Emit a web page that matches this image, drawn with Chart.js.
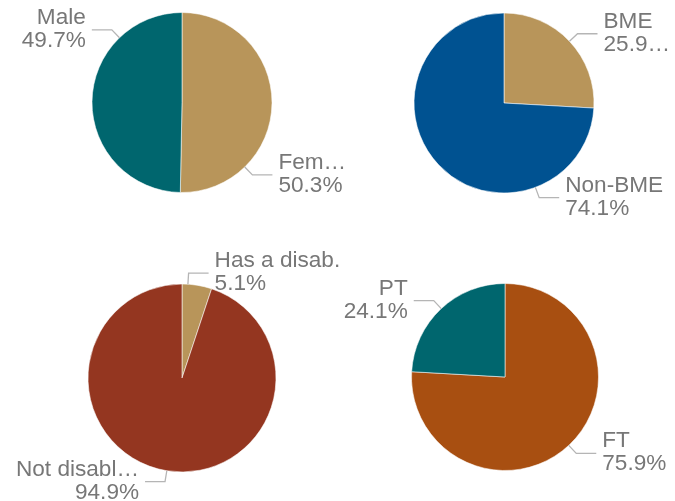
<!DOCTYPE html>
<html>
<head>
<meta charset="utf-8">
<script src="https://cdn.jsdelivr.net/npm/chart.js@4.4.0/dist/chart.umd.min.js"></script>
<style>
  body { margin: 0; background: #fff; }
  #wrap { position: relative; width: 675px; height: 501px; }
  #wrap canvas { position: absolute; left: 0; top: 0; }
</style>
</head>
<body>
<div id="wrap">
  <canvas id="gender" width="675" height="501"></canvas>
  <canvas id="ethnic" width="675" height="501"></canvas>
  <canvas id="disability" width="675" height="501"></canvas>
  <canvas id="contract" width="675" height="501"></canvas>
</div>
<script>
// data (labels as shown, truncated the same way)
const genderLabels = ['Fem…', 'Male'];
const genderValues = [50.3, 49.7];

const ethnicLabels = ['BME', 'Non-BME'];
const ethnicValues = [25.9, 74.1];
const ethnicShown = ['25.9…', '74.1%'];

const disabilityLabels = ['Has a disab.', 'Not disabl…'];
const disabilityValues = [5.1, 94.9];

const contractLabels = ['FT', 'PT'];
const contractValues = [75.9, 24.1];

const TAN = '#b8955a', TEAL = '#00666e', BLUE = '#005291', RUST = '#943620', ORANGE = '#a84f11';

function pct(values) {
    return values.map(v => v.toFixed(1) + '%');
}

// leader lines + two line labels, angle is clockwise from top
const leaderLabels = {
    id: 'leaderLabels',
    afterDatasetsDraw(chart, args, opts) {
        let ctx = chart.ctx;
        let arcs = chart.getDatasetMeta(0).data;
        let labels = chart.data.labels;
        ctx.save();
        ctx.font = '22.6px "Liberation Sans", Arial, sans-serif';
        ctx.textBaseline = 'alphabetic';
        arcs.forEach((arc, i) => {
            let a = opts.angles[i] * Math.PI / 180;
            let r = arc.outerRadius;
            let sx = arc.x + r * Math.sin(a), sy = arc.y - r * Math.cos(a);
            let ex = arc.x + (r + 11) * Math.sin(a), ey = arc.y - (r + 11) * Math.cos(a);
            let dir = Math.sin(a) >= 0 ? 1 : -1;
            let hx = ex + 20 * dir;

            ctx.strokeStyle = '#b5b5b5';
            ctx.lineWidth = 1.3;
            ctx.beginPath();
            ctx.moveTo(sx, sy);
            ctx.lineTo(ex, ey);
            ctx.lineTo(hx, ey);
            ctx.stroke();

            ctx.fillStyle = '#777777';
            ctx.textAlign = dir > 0 ? 'left' : 'right';
            let tx = hx + 6 * dir;
            ctx.fillText(labels[i], tx, ey - 6);
            ctx.fillText(opts.texts[i], tx, ey + 17);
        });
        ctx.restore();
    }
};

function makePie(id, labels, values, texts, colors, cx, cy, r, angles) {
    let side = 2 * r + 1;
    let left = cx - r - 0.5, top = cy - r - 0.5;
    return new Chart(document.getElementById(id), {
        type: 'pie',
        data: {
            labels: labels,
            datasets: [{
                data: values,
                backgroundColor: colors,
                borderColor: 'rgba(255,255,255,0.55)',
                borderWidth: 1
            }]
        },
        options: {
            responsive: false,
            animation: false,
            devicePixelRatio: 1,
            layout: {
                padding: { left: left, top: top, right: 675 - left - side, bottom: 501 - top - side }
            },
            plugins: {
                legend: { display: false },
                tooltip: { enabled: false },
                leaderLabels: { angles: angles, texts: texts }
            }
        },
        plugins: [leaderLabels]
    });
}

makePie('gender', genderLabels, genderValues, pct(genderValues), [TAN, TEAL], 182, 102.5, 90, [135.8, 316]);
makePie('ethnic', ethnicLabels, ethnicValues, ethnicShown, [TAN, BLUE], 504, 103, 90, [46.7, 159.6]);
makePie('disability', disabilityLabels, disabilityValues, pct(disabilityValues), [TAN, RUST], 182, 378, 94, [3.6, 189.3]);
makePie('contract', contractLabels, contractValues, pct(contractValues), [ORANGE, TEAL], 505, 377, 93.5, [137, 317]);
</script>
</body>
</html>
